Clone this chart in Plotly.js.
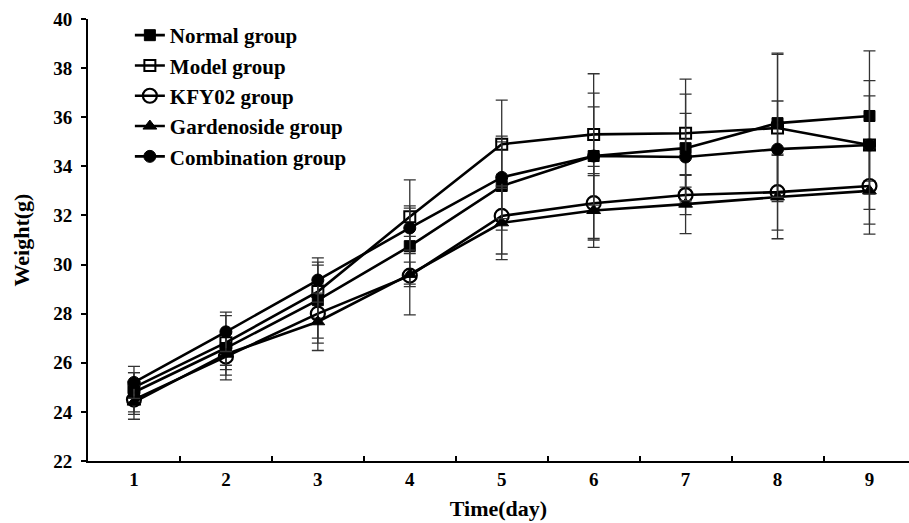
<!DOCTYPE html>
<html>
<head>
<meta charset="utf-8">
<script src="https://cdn.plot.ly/plotly-3.0.1.min.js"></script>
<style>html,body{margin:0;padding:0;background:#fff;}#chart{width:909px;height:523px;}</style>
</head>
<body>
<div id="chart"></div>
<script>
const days = [1, 2, 3, 4, 5, 6, 7, 8, 9];
const dayLabels = ["1", "2", "3", "4", "5", "6", "7", "8", "9"];
const seriesNames = ["Normal group", "Model group", "KFY02 group", "Gardenoside group", "Combination group"];

const normalVals = [24.8, 26.6, 28.55, 30.75, 33.2, 34.42, 34.74, 35.76, 36.05];
const normalErr  = [0.8, 0.7, 1.55, 1.55, 1.8, 3.35, 2.2, 2.85, 2.65];

const modelVals = [25.0, 26.82, 28.9, 31.95, 34.9, 35.3, 35.35, 35.56, 34.87];
const modelErr  = [0.6, 1.1, 1.08, 1.5, 1.8, 1.68, 2.2, 3.0, 2.62];

const kfyVals = [24.5, 26.25, 28.0, 29.55, 31.98, 32.5, 32.83, 32.95, 33.2];
const kfyErr  = [0.6, 0.95, 1.2, 1.6, 1.55, 1.5, 0.8, 1.55, 1.55];

const gardVals = [24.4, 26.35, 27.67, 29.6, 31.7, 32.2, 32.46, 32.75, 33.0];
const gardErr  = [0.7, 0.85, 1.17, 0.5, 1.5, 1.5, 1.2, 1.7, 1.76];

const combVals = [25.2, 27.26, 29.37, 31.49, 33.55, 34.42, 34.38, 34.7, 34.87];
const combErr  = [0.65, 0.8, 0.9, 0.9, 1.68, 2.0, 1.78, 1.96, 2.0];

const yTicks = [22, 24, 26, 28, 30, 32, 34, 36, 38, 40];
const xMinorTicks = [0.5, 1.5, 2.5, 3.5, 4.5, 5.5, 6.5, 7.5, 8.5];

const FONT = "Liberation Serif, Times New Roman, serif";

function mk(name, vals, errs, symbol, size, lw) {
  return {
    type: "scatter", mode: "lines+markers", name: name,
    x: days, y: vals,
    line: {color: "#000", width: 2.6},
    marker: {symbol: symbol, size: size, color: "#000", line: {color: "#000", width: lw}},
    error_y: {type: "data", array: errs, visible: true, color: "#333", thickness: 1.3, width: 6}
  };
}

const traces = [
  mk(seriesNames[0], normalVals, normalErr, "square", 11, 1),
  mk(seriesNames[1], modelVals, modelErr, "square-open", 11, 2),
  mk(seriesNames[2], kfyVals, kfyErr, "circle-open", 14, 2.2),
  mk(seriesNames[3], gardVals, gardErr, "triangle-up", 12, 1),
  mk(seriesNames[4], combVals, combErr, "circle", 12, 1),
  {type: "scatter", mode: "markers", x: [5], y: [30], xaxis: "x2", showlegend: false,
   hoverinfo: "skip", marker: {opacity: 0}}
];

const xRange = [0.5, 9.43];
const layout = {
  width: 909, height: 523,
  margin: {l: 88, r: 0, t: 19, b: 62},
  paper_bgcolor: "#fff", plot_bgcolor: "#fff",
  font: {family: FONT, color: "#000", size: 19, weight: "bold"},
  showlegend: true,
  legend: {
    x: 0.051, y: 1.009, xanchor: "left", yanchor: "top",
    bgcolor: "rgba(0,0,0,0)", tracegroupgap: 0,
    font: {family: FONT, size: 21, color: "#000", weight: "bold"}
  },
  xaxis: {
    range: xRange, tickmode: "array", tickvals: days, ticktext: dayLabels,
    ticks: "", showgrid: false, zeroline: false,
    showline: true, linecolor: "#000", linewidth: 2,
    tickfont: {family: FONT, size: 19, color: "#000", weight: "bold"},
    title: {text: "Time(day)", standoff: 12, font: {family: FONT, size: 22, color: "#000", weight: "bold"}}
  },
  xaxis2: {
    overlaying: "x", range: xRange, tickmode: "array", tickvals: xMinorTicks,
    ticks: "inside", ticklen: 5, tickwidth: 2, tickcolor: "#000",
    showticklabels: false, showgrid: false, zeroline: false, showline: false, side: "bottom"
  },
  yaxis: {
    range: [22, 40], tickmode: "array", tickvals: yTicks,
    ticks: "outside", ticklen: 5, tickwidth: 2, tickcolor: "#000",
    ticklabelstandoff: 5,
    showgrid: false, zeroline: false,
    showline: true, linecolor: "#000", linewidth: 2,
    tickfont: {family: FONT, size: 19, color: "#000", weight: "bold"},
    title: {text: "Weight(g)", standoff: 18, font: {family: FONT, size: 22, color: "#000", weight: "bold"}}
  }
};

Plotly.newPlot("chart", traces, layout, {displayModeBar: false, staticPlot: true});
</script>
</body>
</html>
